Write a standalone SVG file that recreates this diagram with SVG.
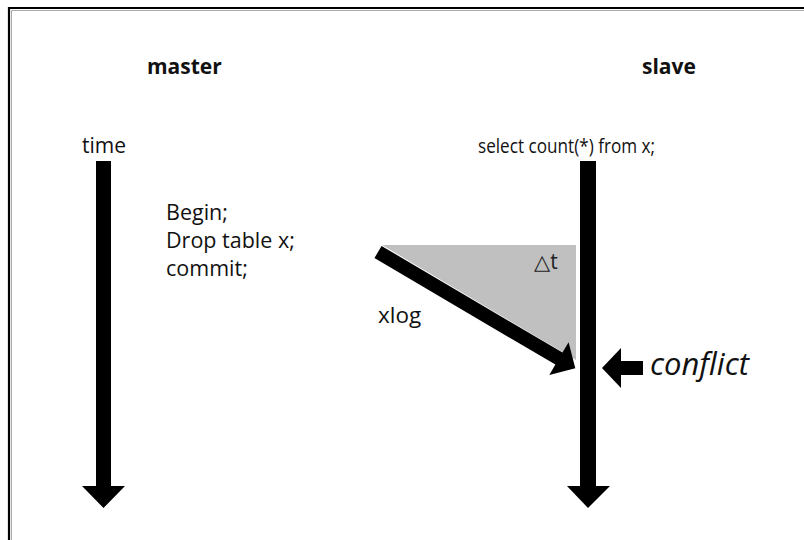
<svg xmlns="http://www.w3.org/2000/svg" width="804" height="540" viewBox="0 0 804 540">
<style>
.t{font-family:"Open Sans","Liberation Sans",sans-serif;font-size:21.5px;fill:#111}
.b{font-weight:bold;font-size:21px}
.ar{fill:#000}
</style>
<rect x="0" y="0" width="804" height="540" fill="#fff"/>
<g id="frame">
<path d="M9,540 V8 H804" fill="none" stroke="#000" stroke-width="2.2"/>
<path d="M11.5,540 V10.5 H804" fill="none" stroke="#aaa" stroke-width="1"/>
</g>
<g id="master">
<text class="t b" x="147" y="74">master</text>
<text class="t" x="82" y="153" style="font-size:21px">time</text>
<polygon class="ar" points="96,161 111,161 111,486 125,486 103.5,508 82,486 96,486"/>
</g>
<g id="master-tx">
<text class="t" x="166" y="220">Begin;</text>
<text class="t" x="166" y="248">Drop table x;</text>
<text class="t" x="166" y="276">commit;</text>
</g>
<g id="slave">
<text class="t b" x="642" y="74">slave</text>
<text class="t" x="478" y="153" style="font-size:20px" textLength="177" lengthAdjust="spacingAndGlyphs">select count(*) from x;</text>
<polygon class="ar" points="580,161 596,161 596,486 610,486 588,508 567,486 580,486"/>
</g>
<g id="delta">
<polygon points="382,245 576,245 576,360" fill="#c0c0c0"/>
<text x="534" y="269" style="font-family:'DejaVu Sans',sans-serif;font-size:21px;fill:#222">△<tspan style="font-family:'Open Sans',sans-serif;font-size:21px">t</tspan></text>
</g>
<g id="connectors">
<g transform="translate(378,252) rotate(30.5)">
<polygon class="ar" points="0,-7 210,-7 210,-19 229,0 210,19 210,7 0,7"/>
</g>
<text class="t" x="378" y="323" style="font-size:22.5px">xlog</text>
<polygon class="ar" points="602,368 621,348 621,361 643,361 643,375 621,375 621,388"/>
</g>
<g id="conflict">
<text x="650" y="375" style="font-family:'Open Sans','Liberation Sans',sans-serif;font-style:italic;font-size:31px;fill:#111">conflict</text>
</g>
</svg>
